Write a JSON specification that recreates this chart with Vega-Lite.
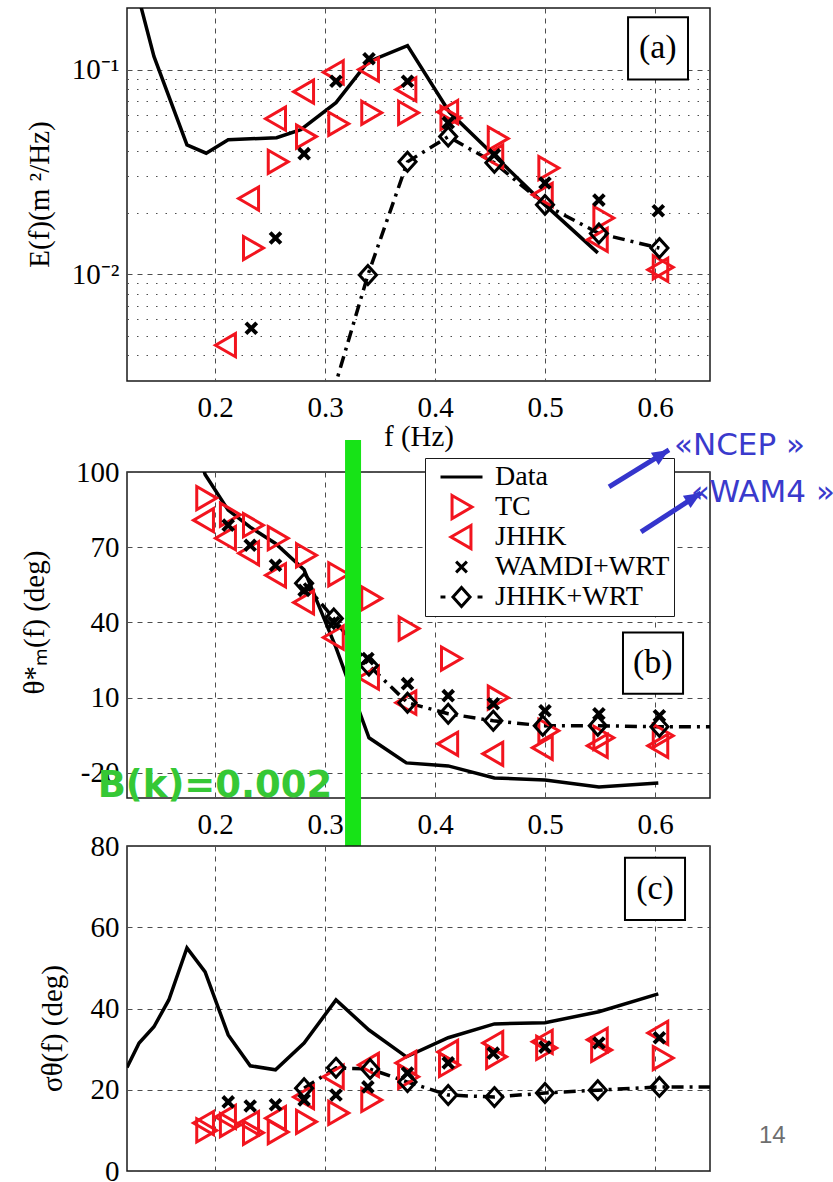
{
  "$schema": "https://vega.github.io/schema/vega-lite/v6.json",
  "autosize": {"type": "pad"},
  "padding": {"left": 19, "top": 7, "right": 0, "bottom": 0},
  "background": "white",
  "config": {
    "font": "Liberation Serif",
    "view": {"stroke": "#1a1a1a", "strokeWidth": 1.5},
    "axis": {
      "labelFont": "Liberation Serif", "labelFontSize": 29, "labelColor": "black",
      "titleFont": "Liberation Serif", "titleFontSize": 29, "titleFontWeight": "normal", "titleColor": "black",
      "domain": false, "ticks": false, "grid": true, "gridColor": "#4d4d4d", "gridWidth": 1, "gridDash": [5, 5], "gridOpacity": 1,
      "labelOverlap": false
    },
    "axisX": {"labelPadding": 12, "labelFlush": false},
    "axisY": {"labelPadding": 8}
  },
  "datasets": {
    "a": [
      {"s": "Data", "f": 0.131, "v": 0.22}, {"s": "Data", "f": 0.1445, "v": 0.116}, {"s": "Data", "f": 0.1745, "v": 0.0428}, {"s": "Data", "f": 0.192, "v": 0.039}, {"s": "Data", "f": 0.212, "v": 0.0454}, {"s": "Data", "f": 0.256, "v": 0.0464}, {"s": "Data", "f": 0.278, "v": 0.0508}, {"s": "Data", "f": 0.31, "v": 0.0689}, {"s": "Data", "f": 0.339, "v": 0.109}, {"s": "Data", "f": 0.375, "v": 0.131}, {"s": "Data", "f": 0.413, "v": 0.062}, {"s": "Data", "f": 0.455, "v": 0.0375}, {"s": "Data", "f": 0.5, "v": 0.0218}, {"s": "Data", "f": 0.548, "v": 0.0127},
      {"s": "TC", "f": 0.2345, "v": 0.0134}, {"s": "TC", "f": 0.257, "v": 0.0354}, {"s": "TC", "f": 0.2827, "v": 0.047}, {"s": "TC", "f": 0.312, "v": 0.0543}, {"s": "TC", "f": 0.342, "v": 0.0615}, {"s": "TC", "f": 0.3755, "v": 0.0615}, {"s": "TC", "f": 0.414, "v": 0.058}, {"s": "TC", "f": 0.457, "v": 0.046}, {"s": "TC", "f": 0.503, "v": 0.033}, {"s": "TC", "f": 0.553, "v": 0.0188}, {"s": "TC", "f": 0.607, "v": 0.0108},
      {"s": "JHHK", "f": 0.21, "v": 0.00449}, {"s": "JHHK", "f": 0.231, "v": 0.0234}, {"s": "JHHK", "f": 0.2555, "v": 0.0575}, {"s": "JHHK", "f": 0.281, "v": 0.078}, {"s": "JHHK", "f": 0.308, "v": 0.097}, {"s": "JHHK", "f": 0.34, "v": 0.1}, {"s": "JHHK", "f": 0.374, "v": 0.08}, {"s": "JHHK", "f": 0.412, "v": 0.062}, {"s": "JHHK", "f": 0.453, "v": 0.0375}, {"s": "JHHK", "f": 0.498, "v": 0.0244}, {"s": "JHHK", "f": 0.548, "v": 0.0147}, {"s": "JHHK", "f": 0.603, "v": 0.0105},
      {"s": "WAMDI+WRT", "f": 0.233, "v": 0.00543}, {"s": "WAMDI+WRT", "f": 0.255, "v": 0.015}, {"s": "WAMDI+WRT", "f": 0.281, "v": 0.0388}, {"s": "WAMDI+WRT", "f": 0.31, "v": 0.0877}, {"s": "WAMDI+WRT", "f": 0.34, "v": 0.113}, {"s": "WAMDI+WRT", "f": 0.375, "v": 0.0877}, {"s": "WAMDI+WRT", "f": 0.412, "v": 0.055}, {"s": "WAMDI+WRT", "f": 0.454, "v": 0.0383}, {"s": "WAMDI+WRT", "f": 0.5, "v": 0.0279}, {"s": "WAMDI+WRT", "f": 0.549, "v": 0.023}, {"s": "WAMDI+WRT", "f": 0.603, "v": 0.0204},
      {"s": "JHHK+WRT", "f": 0.307, "v": 0.0026}, {"s": "JHHK+WRT", "f": 0.339, "v": 0.0099}, {"s": "JHHK+WRT", "f": 0.375, "v": 0.0354}, {"s": "JHHK+WRT", "f": 0.412, "v": 0.047}, {"s": "JHHK+WRT", "f": 0.454, "v": 0.035}, {"s": "JHHK+WRT", "f": 0.5, "v": 0.0218}, {"s": "JHHK+WRT", "f": 0.549, "v": 0.0158}, {"s": "JHHK+WRT", "f": 0.604, "v": 0.0134}
    ],
    "b": [
      {"s": "Data", "f": 0.174, "v": 125}, {"s": "Data", "f": 0.191, "v": 99}, {"s": "Data", "f": 0.212, "v": 84.8}, {"s": "Data", "f": 0.232, "v": 78}, {"s": "Data", "f": 0.255, "v": 71.5}, {"s": "Data", "f": 0.281, "v": 61}, {"s": "Data", "f": 0.31, "v": 30}, {"s": "Data", "f": 0.34, "v": -6}, {"s": "Data", "f": 0.374, "v": -16}, {"s": "Data", "f": 0.412, "v": -17.2}, {"s": "Data", "f": 0.454, "v": -22}, {"s": "Data", "f": 0.5, "v": -22.8}, {"s": "Data", "f": 0.549, "v": -25.6}, {"s": "Data", "f": 0.603, "v": -24},
      {"s": "TC", "f": 0.192, "v": 89.6}, {"s": "TC", "f": 0.2135, "v": 83}, {"s": "TC", "f": 0.2345, "v": 78.8}, {"s": "TC", "f": 0.257, "v": 73.6}, {"s": "TC", "f": 0.2827, "v": 66.8}, {"s": "TC", "f": 0.312, "v": 59.2}, {"s": "TC", "f": 0.342, "v": 49.6}, {"s": "TC", "f": 0.376, "v": 37.6}, {"s": "TC", "f": 0.4145, "v": 25.6}, {"s": "TC", "f": 0.457, "v": 10}, {"s": "TC", "f": 0.503, "v": -3.2}, {"s": "TC", "f": 0.553, "v": -6}, {"s": "TC", "f": 0.607, "v": -5.2},
      {"s": "JHHK", "f": 0.19, "v": 80.8}, {"s": "JHHK", "f": 0.21, "v": 73.6}, {"s": "JHHK", "f": 0.231, "v": 67.6}, {"s": "JHHK", "f": 0.2555, "v": 58.8}, {"s": "JHHK", "f": 0.281, "v": 48}, {"s": "JHHK", "f": 0.308, "v": 34}, {"s": "JHHK", "f": 0.34, "v": 18}, {"s": "JHHK", "f": 0.374, "v": 8}, {"s": "JHHK", "f": 0.412, "v": -8.4}, {"s": "JHHK", "f": 0.453, "v": -12.4}, {"s": "JHHK", "f": 0.498, "v": -10}, {"s": "JHHK", "f": 0.548, "v": -9.2}, {"s": "JHHK", "f": 0.603, "v": -9.2},
      {"s": "WAMDI+WRT", "f": 0.212, "v": 78.8}, {"s": "WAMDI+WRT", "f": 0.232, "v": 70.8}, {"s": "WAMDI+WRT", "f": 0.255, "v": 62.8}, {"s": "WAMDI+WRT", "f": 0.281, "v": 52.8}, {"s": "WAMDI+WRT", "f": 0.308, "v": 40}, {"s": "WAMDI+WRT", "f": 0.339, "v": 25.6}, {"s": "WAMDI+WRT", "f": 0.375, "v": 15.6}, {"s": "WAMDI+WRT", "f": 0.412, "v": 10.8}, {"s": "WAMDI+WRT", "f": 0.453, "v": 7.6}, {"s": "WAMDI+WRT", "f": 0.5, "v": 4.8}, {"s": "WAMDI+WRT", "f": 0.549, "v": 3.6}, {"s": "WAMDI+WRT", "f": 0.604, "v": 2.8},
      {"s": "JHHK+WRT", "f": 0.281, "v": 55.6}, {"s": "JHHK+WRT", "f": 0.308, "v": 41.6}, {"s": "JHHK+WRT", "f": 0.34, "v": 22.8}, {"s": "JHHK+WRT", "f": 0.375, "v": 8}, {"s": "JHHK+WRT", "f": 0.412, "v": 3.6}, {"s": "JHHK+WRT", "f": 0.453, "v": 0.8}, {"s": "JHHK+WRT", "f": 0.498, "v": -1.2}, {"s": "JHHK+WRT", "f": 0.548, "v": -1.2}, {"s": "JHHK+WRT", "f": 0.604, "v": -1.6}, {"s": "JHHK+WRT", "f": 0.67, "v": -1.6}
    ],
    "c": [
      {"s": "Data", "f": 0.12, "v": 25.5}, {"s": "Data", "f": 0.131, "v": 31.5}, {"s": "Data", "f": 0.1445, "v": 35.5}, {"s": "Data", "f": 0.158, "v": 42.1}, {"s": "Data", "f": 0.1745, "v": 54.9}, {"s": "Data", "f": 0.191, "v": 49}, {"s": "Data", "f": 0.212, "v": 33.5}, {"s": "Data", "f": 0.232, "v": 25.9}, {"s": "Data", "f": 0.255, "v": 24.9}, {"s": "Data", "f": 0.281, "v": 31.5}, {"s": "Data", "f": 0.31, "v": 42.1}, {"s": "Data", "f": 0.34, "v": 34.7}, {"s": "Data", "f": 0.374, "v": 28.1}, {"s": "Data", "f": 0.412, "v": 32.8}, {"s": "Data", "f": 0.454, "v": 36.2}, {"s": "Data", "f": 0.5, "v": 36.5}, {"s": "Data", "f": 0.549, "v": 39.2}, {"s": "Data", "f": 0.603, "v": 43.6},
      {"s": "TC", "f": 0.192, "v": 10}, {"s": "TC", "f": 0.2135, "v": 11.3}, {"s": "TC", "f": 0.2345, "v": 9.4}, {"s": "TC", "f": 0.257, "v": 9.6}, {"s": "TC", "f": 0.2827, "v": 12.1}, {"s": "TC", "f": 0.312, "v": 14.3}, {"s": "TC", "f": 0.342, "v": 17.5}, {"s": "TC", "f": 0.3755, "v": 23.2}, {"s": "TC", "f": 0.4127, "v": 26.1}, {"s": "TC", "f": 0.4555, "v": 28.1}, {"s": "TC", "f": 0.501, "v": 30.3}, {"s": "TC", "f": 0.551, "v": 29.8}, {"s": "TC", "f": 0.607, "v": 27.8},
      {"s": "JHHK", "f": 0.19, "v": 11.8}, {"s": "JHHK", "f": 0.21, "v": 13.3}, {"s": "JHHK", "f": 0.231, "v": 11.8}, {"s": "JHHK", "f": 0.2555, "v": 13}, {"s": "JHHK", "f": 0.281, "v": 18.2}, {"s": "JHHK", "f": 0.308, "v": 23.2}, {"s": "JHHK", "f": 0.34, "v": 26.1}, {"s": "JHHK", "f": 0.374, "v": 26.6}, {"s": "JHHK", "f": 0.412, "v": 29.3}, {"s": "JHHK", "f": 0.453, "v": 31.5}, {"s": "JHHK", "f": 0.498, "v": 31.8}, {"s": "JHHK", "f": 0.548, "v": 32.3}, {"s": "JHHK", "f": 0.603, "v": 34},
      {"s": "WAMDI+WRT", "f": 0.212, "v": 17}, {"s": "WAMDI+WRT", "f": 0.232, "v": 16}, {"s": "WAMDI+WRT", "f": 0.255, "v": 16.3}, {"s": "WAMDI+WRT", "f": 0.281, "v": 17.5}, {"s": "WAMDI+WRT", "f": 0.31, "v": 18.7}, {"s": "WAMDI+WRT", "f": 0.339, "v": 20.7}, {"s": "WAMDI+WRT", "f": 0.375, "v": 24.1}, {"s": "WAMDI+WRT", "f": 0.412, "v": 26.6}, {"s": "WAMDI+WRT", "f": 0.453, "v": 29}, {"s": "WAMDI+WRT", "f": 0.5, "v": 30.5}, {"s": "WAMDI+WRT", "f": 0.549, "v": 31.5}, {"s": "WAMDI+WRT", "f": 0.604, "v": 32.8},
      {"s": "JHHK+WRT", "f": 0.281, "v": 20.4}, {"s": "JHHK+WRT", "f": 0.31, "v": 25.4}, {"s": "JHHK+WRT", "f": 0.341, "v": 25.1}, {"s": "JHHK+WRT", "f": 0.375, "v": 21.9}, {"s": "JHHK+WRT", "f": 0.412, "v": 18.7}, {"s": "JHHK+WRT", "f": 0.454, "v": 18.2}, {"s": "JHHK+WRT", "f": 0.5, "v": 19.2}, {"s": "JHHK+WRT", "f": 0.548, "v": 19.9}, {"s": "JHHK+WRT", "f": 0.604, "v": 20.7}, {"s": "JHHK+WRT", "f": 0.67, "v": 20.7}
    ]
  },
  "bounds": "flush",
  "spacing": 91,
  "resolve": {"scale": {"color": "independent", "shape": "independent"}, "legend": {"color": "independent", "shape": "independent"}},
  "vconcat": [
    {
      "width": 583, "height": 373,
      "encoding": {
        "x": {"field": "f", "type": "quantitative", "scale": {"domain": [0.12, 0.65], "nice": false, "zero": false},
          "axis": {"values": [0.2, 0.3, 0.4, 0.5, 0.6], "format": ".1f", "title": "f (Hz)", "titlePadding": 0}},
        "y": {"field": "v", "type": "quantitative", "scale": {"type": "log", "domain": [0.003, 0.2], "nice": false},
          "axis": {"values": [0.004, 0.005, 0.006, 0.007, 0.008, 0.009, 0.01, 0.02, 0.03, 0.04, 0.05, 0.06, 0.07, 0.08, 0.09, 0.1],
            "labelExpr": "datum.value == 0.1 ? '10⁻¹' : (datum.value == 0.01 ? '10⁻²' : '')",
            "gridDash": {"condition": {"test": "datum.value == 0.1 || datum.value == 0.01", "value": [5, 5]}, "value": [1.5, 8]},
            "title": "E(f)(m ²/Hz)", "titleAngle": 270, "titleBaseline": "middle", "titleX": -88, "titleY": 186}}
      },
      "layer": [
        {"data": {"name": "a"}, "transform": [{"filter": "datum.s == 'Data'"}],
          "mark": {"type": "line", "color": "black", "strokeWidth": 3.5, "clip": true}},
        {"data": {"name": "a"}, "transform": [{"filter": "datum.s == 'JHHK+WRT'"}],
          "mark": {"type": "line", "color": "black", "strokeWidth": 3.5, "strokeDash": [12, 6, 3, 6], "clip": true}},
        {"data": {"name": "a"}, "transform": [{"filter": "datum.s == 'TC' || datum.s == 'JHHK'"}],
          "mark": {"type": "point", "filled": false, "size": 900, "strokeWidth": 3, "opacity": 1, "clip": true},
          "encoding": {
            "shape": {"field": "s", "type": "nominal", "legend": null, "scale": {"domain": ["Data", "TC", "JHHK", "WAMDI+WRT", "JHHK+WRT"],
              "range": ["M-1.4,0L1.4,0", "M-0.63,-0.77L0.7,0L-0.63,0.77Z", "M0.63,-0.77L-0.7,0L0.63,0.77Z", "M-0.36,-0.36L0.36,0.36M-0.36,0.36L0.36,-0.36", "M-1.4,0L-1.07,0M1.07,0L1.4,0M0,-0.63L0.57,0L0,0.63L-0.57,0Z"]}},
            "color": {"field": "s", "type": "nominal", "legend": null, "scale": {"domain": ["Data", "TC", "JHHK", "WAMDI+WRT", "JHHK+WRT"], "range": ["black", "#f2141e", "#f2141e", "black", "black"]}}
          }},
        {"data": {"name": "a"}, "transform": [{"filter": "datum.s == 'WAMDI+WRT'"}],
          "mark": {"type": "point", "shape": "M-0.36,-0.36L0.36,0.36M-0.36,0.36L0.36,-0.36", "filled": false, "size": 900, "strokeWidth": 4, "color": "black", "opacity": 1, "clip": true}},
        {"data": {"name": "a"}, "transform": [{"filter": "datum.s == 'JHHK+WRT'"}],
          "mark": {"type": "point", "shape": "M0,-0.63L0.57,0L0,0.63L-0.57,0Z", "filled": false, "size": 900, "strokeWidth": 3, "color": "black", "opacity": 1, "clip": true}},
        {"data": {"values": [{"f": 0.5755, "f2": 0.63, "v": 0.18, "v2": 0.0893}]},
          "mark": {"type": "rect", "fill": "white", "stroke": "black", "strokeWidth": 2},
          "encoding": {"x2": {"field": "f2"}, "y2": {"field": "v2"}}},
        {"data": {"values": [{"f": 0.6025, "v": 0.127, "label": "(a)"}]},
          "mark": {"type": "text", "font": "Liberation Serif", "fontSize": 34, "align": "center", "baseline": "middle", "color": "black"},
          "encoding": {"text": {"field": "label"}}}
      ]
    },
    {
      "bounds": "flush",
      "spacing": 48,
      "resolve": {"scale": {"color": "independent", "shape": "independent"}, "legend": {"color": "independent", "shape": "independent"}},
      "vconcat": [
        {
          "width": 583, "height": 326,
          "encoding": {
            "x": {"field": "f", "type": "quantitative", "scale": {"domain": [0.12, 0.65], "nice": false, "zero": false},
              "axis": {"values": [0.2, 0.3, 0.4, 0.5, 0.6], "format": ".1f", "title": null}},
            "y": {"field": "v", "type": "quantitative", "scale": {"domain": [-30, 100], "nice": false, "zero": false},
              "axis": {"values": [-20, 10, 40, 70, 100], "labelExpr": "'' + datum.value", "title": "θ*ₘ(f)  (deg)", "titleAngle": 270, "titleBaseline": "middle", "titleX": -93, "titleY": 150}}
          },
          "layer": [
            {"data": {"name": "b"}, "transform": [{"filter": "datum.s == 'Data'"}],
              "mark": {"type": "line", "color": "black", "strokeWidth": 3.5, "clip": true}},
            {"data": {"name": "b"}, "transform": [{"filter": "datum.s == 'JHHK+WRT'"}],
              "mark": {"type": "line", "color": "black", "strokeWidth": 3.5, "strokeDash": [12, 6, 3, 6], "clip": true}},
            {"data": {"name": "b"}, "transform": [{"filter": "datum.s == 'TC' || datum.s == 'JHHK'"}],
              "mark": {"type": "point", "filled": false, "size": 900, "strokeWidth": 3, "opacity": 1, "clip": true},
              "encoding": {
                "shape": {"field": "s", "type": "nominal",
                  "scale": {"domain": ["Data", "TC", "JHHK", "WAMDI+WRT", "JHHK+WRT"],
                    "range": ["M-1.4,0L1.4,0", "M-0.63,-0.77L0.7,0L-0.63,0.77Z", "M0.63,-0.77L-0.7,0L0.63,0.77Z", "M-0.36,-0.36L0.36,0.36M-0.36,0.36L0.36,-0.36", "M-1.4,0L-1.07,0M1.07,0L1.4,0M0,-0.63L0.57,0L0,0.63L-0.57,0Z"]},
                  "legend": {"title": null, "orient": "none", "legendX": 298, "legendY": -14, "padding": 4, "clipHeight": 30, "rowPadding": 0,
                    "symbolOffset": 16, "labelOffset": 17, "symbolSize": 900, "symbolStrokeWidth": 3, "symbolOpacity": 1,
                    "labelFont": "Liberation Serif", "labelFontSize": 28, "labelColor": "black", "labelLimit": 400,
                    "labelExpr": "datum.label + '\u2002'",
                    "strokeColor": "#1a1a1a", "fillColor": "white"}},
                "color": {"field": "s", "type": "nominal",
                  "scale": {"domain": ["Data", "TC", "JHHK", "WAMDI+WRT", "JHHK+WRT"], "range": ["black", "#f2141e", "#f2141e", "black", "black"]},
                  "legend": {"title": null, "orient": "none", "legendX": 298, "legendY": -14, "padding": 4, "clipHeight": 30, "rowPadding": 0,
                    "symbolOffset": 16, "labelOffset": 17, "symbolSize": 900, "symbolStrokeWidth": 3, "symbolOpacity": 1,
                    "labelFont": "Liberation Serif", "labelFontSize": 28, "labelColor": "black", "labelLimit": 400,
                    "labelExpr": "datum.label + '\u2002'",
                    "strokeColor": "#1a1a1a", "fillColor": "white"}}
              }},
            {"data": {"name": "b"}, "transform": [{"filter": "datum.s == 'WAMDI+WRT'"}],
              "mark": {"type": "point", "shape": "M-0.36,-0.36L0.36,0.36M-0.36,0.36L0.36,-0.36", "filled": false, "size": 900, "strokeWidth": 4, "color": "black", "opacity": 1, "clip": true}},
            {"data": {"name": "b"}, "transform": [{"filter": "datum.s == 'JHHK+WRT'"}],
              "mark": {"type": "point", "shape": "M0,-0.63L0.57,0L0,0.63L-0.57,0Z", "filled": false, "size": 900, "strokeWidth": 3, "color": "black", "opacity": 1, "clip": true}},
            {"data": {"values": [{"f": 0.5709, "f2": 0.6255, "v": 36, "v2": 11.6}]},
              "mark": {"type": "rect", "fill": "white", "stroke": "black", "strokeWidth": 2},
              "encoding": {"x2": {"field": "f2"}, "y2": {"field": "v2"}}},
            {"data": {"values": [{"f": 0.598, "v": 23.8, "label": "(b)"}]},
              "mark": {"type": "text", "font": "Liberation Serif", "fontSize": 34, "align": "center", "baseline": "middle", "color": "black"},
              "encoding": {"text": {"field": "label"}}},
            {"data": {"values": [{"f": 0.3255, "v": 112.8, "v2": -49.2}]},
              "mark": {"type": "rule", "color": "#17e317", "strokeWidth": 16, "strokeCap": "butt"},
              "encoding": {"y2": {"field": "v2"}}},
            {"data": {"values": [{"f": 0.2, "v": -29.6, "label": "B(k)=0.002"}]},
              "mark": {"type": "text", "font": "DejaVu Sans", "fontWeight": "bold", "fontSize": 37, "align": "center", "baseline": "alphabetic", "color": "#35c835"},
              "encoding": {"text": {"field": "label"}}}
          ]
        },
        {
          "width": 583, "height": 325,
          "encoding": {
            "x": {"field": "f", "type": "quantitative", "scale": {"domain": [0.12, 0.65], "nice": false, "zero": false},
              "axis": {"values": [0.2, 0.3, 0.4, 0.5, 0.6], "labels": false, "title": null}},
            "y": {"field": "v", "type": "quantitative", "scale": {"domain": [0, 80], "nice": false, "zero": false},
              "axis": {"values": [0, 20, 40, 60, 80], "title": "σθ(f)  (deg)", "titleAngle": 270, "titleBaseline": "middle", "titleX": -75, "titleY": 182}}
          },
          "layer": [
            {"data": {"name": "c"}, "transform": [{"filter": "datum.s == 'Data'"}],
              "mark": {"type": "line", "color": "black", "strokeWidth": 3.5, "clip": true}},
            {"data": {"name": "c"}, "transform": [{"filter": "datum.s == 'JHHK+WRT'"}],
              "mark": {"type": "line", "color": "black", "strokeWidth": 3.5, "strokeDash": [12, 6, 3, 6], "clip": true}},
            {"data": {"name": "c"}, "transform": [{"filter": "datum.s == 'TC' || datum.s == 'JHHK'"}],
              "mark": {"type": "point", "filled": false, "size": 900, "strokeWidth": 3, "opacity": 1, "clip": true},
              "encoding": {
                "shape": {"field": "s", "type": "nominal", "legend": null, "scale": {"domain": ["Data", "TC", "JHHK", "WAMDI+WRT", "JHHK+WRT"],
                  "range": ["M-1.4,0L1.4,0", "M-0.63,-0.77L0.7,0L-0.63,0.77Z", "M0.63,-0.77L-0.7,0L0.63,0.77Z", "M-0.36,-0.36L0.36,0.36M-0.36,0.36L0.36,-0.36", "M-1.4,0L-1.07,0M1.07,0L1.4,0M0,-0.63L0.57,0L0,0.63L-0.57,0Z"]}},
                "color": {"field": "s", "type": "nominal", "legend": null, "scale": {"domain": ["Data", "TC", "JHHK", "WAMDI+WRT", "JHHK+WRT"], "range": ["black", "#f2141e", "#f2141e", "black", "black"]}}
              }},
            {"data": {"name": "c"}, "transform": [{"filter": "datum.s == 'WAMDI+WRT'"}],
              "mark": {"type": "point", "shape": "M-0.36,-0.36L0.36,0.36M-0.36,0.36L0.36,-0.36", "filled": false, "size": 900, "strokeWidth": 4, "color": "black", "opacity": 1, "clip": true}},
            {"data": {"name": "c"}, "transform": [{"filter": "datum.s == 'JHHK+WRT'"}],
              "mark": {"type": "point", "shape": "M0,-0.63L0.57,0L0,0.63L-0.57,0Z", "filled": false, "size": 900, "strokeWidth": 3, "color": "black", "opacity": 1, "clip": true}},
            {"data": {"values": [{"f": 0.5727, "f2": 0.6273, "v": 77.1, "v2": 61.8}]},
              "mark": {"type": "rect", "fill": "white", "stroke": "black", "strokeWidth": 2},
              "encoding": {"x2": {"field": "f2"}, "y2": {"field": "v2"}}},
            {"data": {"values": [{"f": 0.6, "v": 69.5, "label": "(c)"}]},
              "mark": {"type": "text", "font": "Liberation Serif", "fontSize": 34, "align": "center", "baseline": "middle", "color": "black"},
              "encoding": {"text": {"field": "label"}}},
            {"data": {"values": [{"f": 0.6945, "v": 6.9, "label": "14"}]},
              "mark": {"type": "text", "font": "Liberation Sans", "fontSize": 24, "align": "left", "baseline": "alphabetic", "color": "#6e6e6e"},
              "encoding": {"text": {"field": "label"}}},
            {"data": {"values": [{"f": 0.5582, "v": 168.4, "f2": 0.6127, "v2": 177.5}, {"f": 0.5873, "v": 157.3, "f2": 0.6418, "v2": 166.9}]},
              "mark": {"type": "rule", "color": "#3535cc", "strokeWidth": 5, "strokeCap": "butt"},
              "encoding": {"x2": {"field": "f2"}, "y2": {"field": "v2"}}},
            {"data": {"values": [{"f": 0.6127, "v": 177.5}, {"f": 0.6418, "v": 166.9}]},
              "mark": {"type": "point", "shape": "M0,0L0.6,1.4L-0.6,1.4Z", "size": 576, "angle": 58, "filled": true, "color": "#3535cc", "opacity": 1}},
            {"data": {"values": [{"f": 0.6173, "v": 176.2, "label": "«NCEP »"}, {"f": 0.6327, "v": 164.7, "label": "«WAM4 »"}]},
              "mark": {"type": "text", "font": "DejaVu Sans", "fontSize": 31, "align": "left", "baseline": "alphabetic", "color": "#3a3acc"},
              "encoding": {"text": {"field": "label"}}}
          ]
        }
      ]
    }
  ]
}
